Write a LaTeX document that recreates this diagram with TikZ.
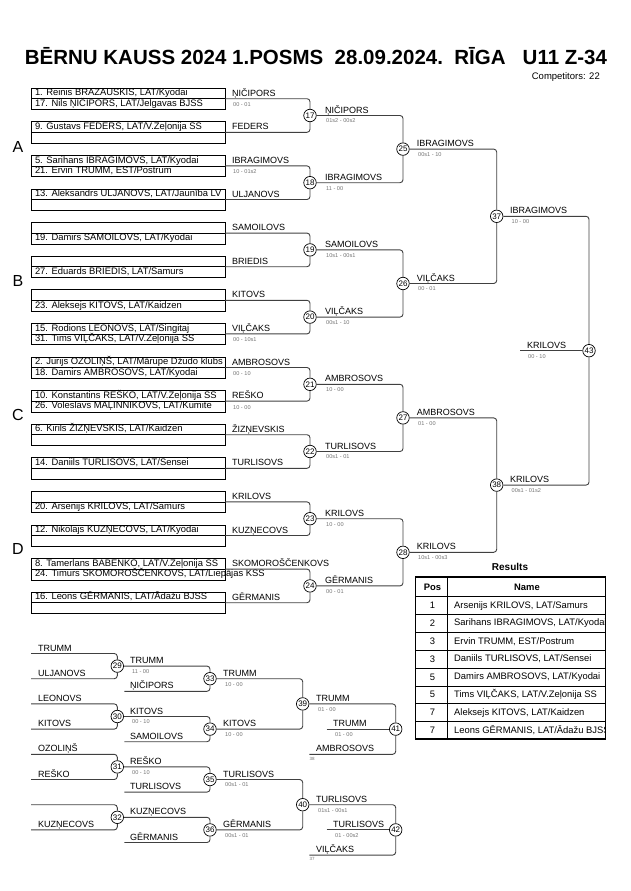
\documentclass[tikz,border=0pt]{standalone}
\usepackage{fontspec}
\setmainfont{Liberation Sans}
\newcommand{\boxtext}[1]{\makebox[186pt][l]{#1}}
\tikzset{
  entry/.style={draw, line width=0.6pt, anchor=north west, outer sep=0pt,
    minimum width=194pt, minimum height=10.7pt, inner xsep=4pt, inner ysep=0pt,
    text height=6.9pt, text depth=1.9pt, font=\fontsize{9.4}{10}\selectfont},
  match/.style={circle, draw, fill=white, line width=0.7pt, minimum size=12.5pt,
    inner sep=0pt, font=\fontsize{8}{8}\selectfont},
  winner/.style={anchor=base west, inner sep=0pt, font=\fontsize{9}{10}\selectfont},
  score/.style={anchor=west, inner sep=0pt, text=black!55, font=\fontsize{5.6}{6}\selectfont},
  source/.style={anchor=west, inner sep=0pt, text=black!55, font=\fontsize{4.5}{5}\selectfont},
  link/.style={draw=black!75, line width=0.9pt, rounded corners=3pt},
  pool/.style={font=\fontsize{16}{18}\selectfont},
  cellpos/.style={inner sep=0pt, font=\fontsize{9.4}{10}\selectfont},
  cellname/.style={anchor=west, inner sep=0pt, font=\fontsize{9.4}{10}\selectfont},
}
\begin{document}
\begin{tikzpicture}[x=1pt,y=-1pt]
        \useasboundingbox (0,0) rectangle (630,891);

        % heading
        \node[anchor=base, inner sep=0pt, font=\bfseries\fontsize{20.5}{24}\selectfont] (head) at (316,64.5)
            {BĒRNU KAUSS 2024 1.POSMS\ \ 28.09.2024.\ \ RĪGA\ \ \ U11 Z-34};
        \node[anchor=base east, inner sep=0pt, font=\fontsize{9.5}{10}\selectfont] (count) at (600,79.5) {Competitors: 22};

        % pools
        \node[pool] (pA) at (18,147) {A};
        \node[pool] (pB) at (18,281) {B};
        \node[pool] (pC) at (18,415) {C};
        \node[pool] (pD) at (18,549) {D};

        % first pairs
        \node[entry] (e1a) at (31,88) {\boxtext{1. Reinis BRAZAUSKIS, LAT/Kyodai}};
        \node[entry] (e1b) at (31,98.7) {\boxtext{17. Nils ŅIČIPORS, LAT/Jelgavas BJSS}};
        \node[entry] (e2a) at (31,121.6) {\boxtext{9. Gustavs FEDERS, LAT/V.Zeļonija SS}};
        \node[entry] (e2b) at (31,132.3) {\boxtext{}};
        \node[entry] (e3a) at (31,155.2) {\boxtext{5. Sarihans IBRAGIMOVS, LAT/Kyodai}};
        \node[entry] (e3b) at (31,165.9) {\boxtext{21. Ervin TRUMM, EST/Postrum}};
        \node[entry] (e4a) at (31,188.8) {\boxtext{13. Aleksandrs ULJANOVS, LAT/Jaunība LV}};
        \node[entry] (e4b) at (31,199.5) {\boxtext{}};
        \node[entry] (e5a) at (31,222.4) {\boxtext{}};
        \node[entry] (e5b) at (31,233.1) {\boxtext{19. Damirs SAMOILOVS, LAT/Kyodai}};
        \node[entry] (e6a) at (31,256) {\boxtext{}};
        \node[entry] (e6b) at (31,266.7) {\boxtext{27. Eduards BRIEDIS, LAT/Samurs}};
        \node[entry] (e7a) at (31,289.6) {\boxtext{}};
        \node[entry] (e7b) at (31,300.3) {\boxtext{23. Aleksejs KITOVS, LAT/Kaidzen}};
        \node[entry] (e8a) at (31,323.2) {\boxtext{15. Rodions LEONOVS, LAT/Singitaj}};
        \node[entry] (e8b) at (31,333.9) {\boxtext{31. Tims VIĻČAKS, LAT/V.Zeļonija SS}};
        \node[entry] (e9a) at (31,356.8) {\boxtext{2. Jurijs OZOLIŅŠ, LAT/Mārupe Džudo klubs}};
        \node[entry] (e9b) at (31,367.5) {\boxtext{18. Damirs AMBROSOVS, LAT/Kyodai}};
        \node[entry] (e10a) at (31,390.4) {\boxtext{10. Konstantins REŠKO, LAT/V.Zeļonija SS}};
        \node[entry] (e10b) at (31,401.1) {\boxtext{26. Voleslavs MAĻINNIKOVS, LAT/Kumite}};
        \node[entry] (e11a) at (31,424) {\boxtext{6. Kirils ŽIZŅEVSKIS, LAT/Kaidzen}};
        \node[entry] (e11b) at (31,434.7) {\boxtext{}};
        \node[entry] (e12a) at (31,457.6) {\boxtext{14. Daniils TURLISOVS, LAT/Sensei}};
        \node[entry] (e12b) at (31,468.3) {\boxtext{}};
        \node[entry] (e13a) at (31,491.2) {\boxtext{}};
        \node[entry] (e13b) at (31,501.9) {\boxtext{20. Arsenijs KRILOVS, LAT/Samurs}};
        \node[entry] (e14a) at (31,524.8) {\boxtext{12. Nikolajs KUZŅECOVS, LAT/Kyodai}};
        \node[entry] (e14b) at (31,535.5) {\boxtext{}};
        \node[entry] (e15a) at (31,558.4) {\boxtext{8. Tamerlans BABENKO, LAT/V.Zeļonija SS}};
        \node[entry] (e15b) at (31,569.1) {\boxtext{24. Timurs SKOMOROŠČENKOVS, LAT/Liepājas KSS}};
        \node[entry] (e16a) at (31,592) {\boxtext{16. Leons GĒRMANIS, LAT/Ādažu BJSS}};
        \node[entry] (e16b) at (31,602.7) {\boxtext{}};

        % main bouts
        \node[match] (m17) at (310,115.5) {17};
        \node[match] (m18) at (310,182.7) {18};
        \node[match] (m19) at (310,249.9) {19};
        \node[match] (m20) at (310,317.1) {20};
        \node[match] (m21) at (310,384.3) {21};
        \node[match] (m22) at (310,451.5) {22};
        \node[match] (m23) at (310,518.7) {23};
        \node[match] (m24) at (310,585.9) {24};
        \node[match] (m25) at (403,149.1) {25};
        \node[match] (m26) at (403,283.5) {26};
        \node[match] (m27) at (403,417.9) {27};
        \node[match] (m28) at (403,552.3) {28};
        \node[match] (m37) at (496.7,216.3) {37};
        \node[match] (m38) at (496.7,485.1) {38};
        \node[match] (m43) at (589,350.7) {43};
        \coordinate (f43) at (520,350.7);

        % main lines
        \draw[link] (e1a.south east) -| (m17);
        \draw[link] (e2a.south east) -| (m17);
        \draw[link] (e3a.south east) -| (m18);
        \draw[link] (e4a.south east) -| (m18);
        \draw[link] (e5a.south east) -| (m19);
        \draw[link] (e6a.south east) -| (m19);
        \draw[link] (e7a.south east) -| (m20);
        \draw[link] (e8a.south east) -| (m20);
        \draw[link] (e9a.south east) -| (m21);
        \draw[link] (e10a.south east) -| (m21);
        \draw[link] (e11a.south east) -| (m22);
        \draw[link] (e12a.south east) -| (m22);
        \draw[link] (e13a.south east) -| (m23);
        \draw[link] (e14a.south east) -| (m23);
        \draw[link] (e15a.south east) -| (m24);
        \draw[link] (e16a.south east) -| (m24);
        \draw[link] (m17) -| (m25);
        \draw[link] (m18) -| (m25);
        \draw[link] (m19) -| (m26);
        \draw[link] (m20) -| (m26);
        \draw[link] (m21) -| (m27);
        \draw[link] (m22) -| (m27);
        \draw[link] (m23) -| (m28);
        \draw[link] (m24) -| (m28);
        \draw[link] (m25) -| (m37);
        \draw[link] (m26) -| (m37);
        \draw[link] (m27) -| (m38);
        \draw[link] (m28) -| (m38);
        \draw[link] (m37) -| (m43);
        \draw[link] (m38) -| (m43);
        \draw[link] (f43) -- (m43);

        % winners and scores
        \node[winner] (n1) at (232,96.2) {ŅIČIPORS};
        \node[score] (s1) at (233,104.7) {00 - 01};
        \node[winner] (n2) at (232,129.8) {FEDERS};
        \node[winner] (n3) at (232,163.4) {IBRAGIMOVS};
        \node[score] (s3) at (233,171.9) {10 - 01s2};
        \node[winner] (n4) at (232,197) {ULJANOVS};
        \node[winner] (n5) at (232,230.6) {SAMOILOVS};
        \node[winner] (n6) at (232,264.2) {BRIEDIS};
        \node[winner] (n7) at (232,297.8) {KITOVS};
        \node[winner] (n8) at (232,331.4) {VIĻČAKS};
        \node[score] (s8) at (233,339.9) {00 - 10s1};
        \node[winner] (n9) at (232,365) {AMBROSOVS};
        \node[score] (s9) at (233,373.5) {00 - 10};
        \node[winner] (n10) at (232,398.6) {REŠKO};
        \node[score] (s10) at (233,407.1) {10 - 00};
        \node[winner] (n11) at (232,432.2) {ŽIZŅEVSKIS};
        \node[winner] (n12) at (232,465.8) {TURLISOVS};
        \node[winner] (n13) at (232,499.4) {KRILOVS};
        \node[winner] (n14) at (232,533) {KUZŅECOVS};
        \node[winner] (n15) at (232,566.6) {SKOMOROŠČENKOVS};
        \node[winner] (n16) at (232,600.2) {GĒRMANIS};
        \node[winner] (n17) at (325,113) {ŅIČIPORS};
        \node[score] (s17) at (326,121) {01s2 - 00s2};
        \node[winner] (n18) at (325,180.2) {IBRAGIMOVS};
        \node[score] (s18) at (326,188.2) {11 - 00};
        \node[winner] (n19) at (325,247.4) {SAMOILOVS};
        \node[score] (s19) at (326,255.4) {10s1 - 00s1};
        \node[winner] (n20) at (325,314.6) {VIĻČAKS};
        \node[score] (s20) at (326,322.6) {00s1 - 10};
        \node[winner] (n21) at (325,381.8) {AMBROSOVS};
        \node[score] (s21) at (326,389.8) {10 - 00};
        \node[winner] (n22) at (325,449) {TURLISOVS};
        \node[score] (s22) at (326,457) {00s1 - 01};
        \node[winner] (n23) at (325,516.2) {KRILOVS};
        \node[score] (s23) at (326,524.2) {10 - 00};
        \node[winner] (n24) at (325,583.4) {GĒRMANIS};
        \node[score] (s24) at (326,591.4) {00 - 01};
        \node[winner] (n25) at (416.7,146.6) {IBRAGIMOVS};
        \node[score] (s25) at (418,154.6) {00s1 - 10};
        \node[winner] (n26) at (416.7,281) {VIĻČAKS};
        \node[score] (s26) at (418,289) {00 - 01};
        \node[winner] (n27) at (416.7,415.4) {AMBROSOVS};
        \node[score] (s27) at (418,423.4) {01 - 00};
        \node[winner] (n28) at (416.7,549.8) {KRILOVS};
        \node[score] (s28) at (418,557.8) {10s1 - 00s3};
        \node[winner] (n37) at (510,213.8) {IBRAGIMOVS};
        \node[score] (s37) at (511.5,221.8) {10 - 00};
        \node[winner] (n38) at (510,482.6) {KRILOVS};
        \node[score] (s38) at (511.5,490.6) {00s1 - 01s2};
        \node[winner] (n43) at (527,348.2) {KRILOVS};
        \node[score] (s43) at (528,356.2) {00 - 10};

        % results
        \node[anchor=base, inner sep=0pt, font=\bfseries\fontsize{10}{11}\selectfont] (res) at (510,570.5) {Results};
        \begin{scope}
            \clip (415.5,577.3) rectangle (604.6,739.3);
            \node[cellpos] (h1) at (432.5,587) {\bfseries Pos};
            \node[cellpos] (h2) at (527,587) {\bfseries Name};
            \node[cellpos] (r1p) at (432.5,605.6) {1};
            \node[cellname] (r1n) at (454,605.6) {Arsenijs KRILOVS, LAT/Samurs};
            \node[cellpos] (r2p) at (432.5,623.4) {2};
            \node[cellname] (r2n) at (454,623.4) {Sarihans IBRAGIMOVS, LAT/Kyodai};
            \node[cellpos] (r3p) at (432.5,641.3) {3};
            \node[cellname] (r3n) at (454,641.3) {Ervin TRUMM, EST/Postrum};
            \node[cellpos] (r4p) at (432.5,659.1) {3};
            \node[cellname] (r4n) at (454,659.1) {Daniils TURLISOVS, LAT/Sensei};
            \node[cellpos] (r5p) at (432.5,676.9) {5};
            \node[cellname] (r5n) at (454,676.9) {Damirs AMBROSOVS, LAT/Kyodai};
            \node[cellpos] (r6p) at (432.5,694.8) {5};
            \node[cellname] (r6n) at (454,694.8) {Tims VIĻČAKS, LAT/V.Zeļonija SS};
            \node[cellpos] (r7p) at (432.5,712.6) {7};
            \node[cellname] (r7n) at (454,712.6) {Aleksejs KITOVS, LAT/Kaidzen};
            \node[cellpos] (r8p) at (432.5,730.4) {7};
            \node[cellname] (r8n) at (454,730.4) {Leons GĒRMANIS, LAT/Ādažu BJSS};
        \end{scope}
        \draw[line width=0.7pt] (415.5,596.7) -- (605.5,596.7)
            (415.5,614.5) -- (605.5,614.5) (415.5,632.4) -- (605.5,632.4)
            (415.5,650.2) -- (605.5,650.2) (415.5,668) -- (605.5,668)
            (415.5,685.9) -- (605.5,685.9) (415.5,703.7) -- (605.5,703.7)
            (415.5,721.5) -- (605.5,721.5) (447.3,577.3) -- (447.3,739.3);
        \draw[line width=1.8pt] (415.5,577.3) rectangle (605.5,739.3);

        % repechage bouts
        \coordinate (q1) at (31,653.5);
        \coordinate (q2) at (31,678.7);
        \coordinate (q3) at (31,703.9);
        \coordinate (q4) at (31,729.1);
        \coordinate (q5) at (31,754.3);
        \coordinate (q6) at (31,779.5);
        \coordinate (q7) at (31,804.7);
        \coordinate (q8) at (31,829.9);
        \coordinate (q9) at (124.3,691.3);
        \coordinate (q10) at (124.3,741.7);
        \coordinate (q11) at (124.3,792.1);
        \coordinate (q12) at (124.3,842.5);
        \coordinate (q13) at (326.7,729.1);
        \coordinate (q14) at (309.3,754.3);
        \coordinate (q15) at (326.7,829.9);
        \coordinate (q16) at (309.3,855.1);
        \node[match] (m29) at (117.3,666.1) {29};
        \node[match] (m30) at (117.3,716.5) {30};
        \node[match] (m31) at (117.3,766.9) {31};
        \node[match] (m32) at (117.3,817.3) {32};
        \node[match] (m33) at (210,678.7) {33};
        \node[match] (m34) at (210,729.1) {34};
        \node[match] (m35) at (210,779.5) {35};
        \node[match] (m36) at (210,829.9) {36};
        \node[match] (m39) at (302.7,703.9) {39};
        \node[match] (m40) at (302.7,804.7) {40};
        \node[match] (m41) at (395.7,729.1) {41};
        \node[match] (m42) at (395.7,829.9) {42};

        % repechage lines
        \draw[link] (q1) -| (m29);
        \draw[link] (q2) -| (m29);
        \draw[link] (q3) -| (m30);
        \draw[link] (q4) -| (m30);
        \draw[link] (q5) -| (m31);
        \draw[link] (q6) -| (m31);
        \draw[link] (q7) -| (m32);
        \draw[link] (q8) -| (m32);
        \draw[link] (m29) -| (m33);
        \draw[link] (q9) -| (m33);
        \draw[link] (m30) -| (m34);
        \draw[link] (q10) -| (m34);
        \draw[link] (m31) -| (m35);
        \draw[link] (q11) -| (m35);
        \draw[link] (m32) -| (m36);
        \draw[link] (q12) -| (m36);
        \draw[link] (m33) -| (m39);
        \draw[link] (m34) -| (m39);
        \draw[link] (m35) -| (m40);
        \draw[link] (m36) -| (m40);
        \draw[link] (m39) -| (m41);
        \draw[link] (q13) -- (m41);
        \draw[link] (q14) -| (m41);
        \draw[link] (m40) -| (m42);
        \draw[link] (q15) -- (m42);
        \draw[link] (q16) -| (m42);

        % repechage names
        \node[winner] (k1) at (38,651) {TRUMM};
        \node[winner] (k2) at (38,676.2) {ULJANOVS};
        \node[winner] (k3) at (38,701.4) {LEONOVS};
        \node[winner] (k4) at (38,726.6) {KITOVS};
        \node[winner] (k5) at (38,751.8) {OZOLIŅŠ};
        \node[winner] (k6) at (38,777) {REŠKO};
        \node[winner] (k8) at (38,827.4) {KUZŅECOVS};
        \node[winner] (k29) at (130,663.6) {TRUMM};
        \node[score] (t29) at (132,671.6) {11 - 00};
        \node[winner] (k9) at (130,688.8) {ŅIČIPORS};
        \node[winner] (k30) at (130,714) {KITOVS};
        \node[score] (t30) at (132,722) {00 - 10};
        \node[winner] (k10) at (130,739.2) {SAMOILOVS};
        \node[winner] (k31) at (130,764.4) {REŠKO};
        \node[score] (t31) at (132,772.4) {00 - 10};
        \node[winner] (k11) at (130,789.6) {TURLISOVS};
        \node[winner] (k32) at (130,814.8) {KUZŅECOVS};
        \node[winner] (k12) at (130,840) {GĒRMANIS};
        \node[winner] (k33) at (223,676.2) {TRUMM};
        \node[score] (t33) at (225,684.2) {10 - 00};
        \node[winner] (k34) at (223,726.6) {KITOVS};
        \node[score] (t34) at (225,734.6) {10 - 00};
        \node[winner] (k35) at (223,777) {TURLISOVS};
        \node[score] (t35) at (225,785) {00s1 - 01};
        \node[winner] (k36) at (223,827.4) {GĒRMANIS};
        \node[score] (t36) at (225,835.4) {00s1 - 01};
        \node[winner] (k39) at (316,701.4) {TRUMM};
        \node[score] (t39) at (318,709.4) {01 - 00};
        \node[winner] (k41) at (333,726.6) {TRUMM};
        \node[score] (t41) at (335,734.6) {01 - 00};
        \node[winner] (k13) at (316,751.8) {AMBROSOVS};
        \node[source] (u38) at (309.5,758.5) {38};
        \node[winner] (k40) at (316,802.2) {TURLISOVS};
        \node[score] (t40) at (318,810.2) {01s1 - 00s1};
        \node[winner] (k42) at (333,827.4) {TURLISOVS};
        \node[score] (t42) at (335,835.4) {01 - 00s2};
        \node[winner] (k14) at (316,852.6) {VIĻČAKS};
        \node[source] (u37) at (309.5,859.3) {37};
\end{tikzpicture}
\end{document}
